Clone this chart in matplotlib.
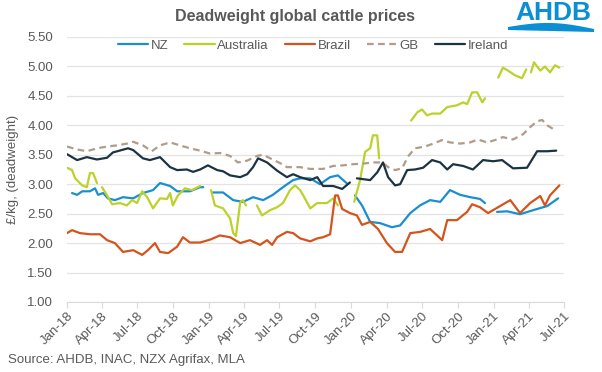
import numpy as np
import pandas as pd
import matplotlib
matplotlib.use("Agg")
import matplotlib.pyplot as plt
import matplotlib.dates as mdates
from matplotlib.patches import Polygon

plt.rcParams['font.family'] = ['Liberation Sans', 'DejaVu Sans']

NaN = float('nan')

ireland_dates = ["2018-01-01","2018-01-27","2018-02-21","2018-03-19","2018-04-14","2018-04-29","2018-06-07","2018-06-20",
    "2018-07-15","2018-08-02","2018-08-28","2018-09-23","2018-10-11","2018-11-05","2018-11-21","2018-12-09","2018-12-29",
    "2019-01-22","2019-02-06","2019-02-24","2019-03-22","2019-04-09","2019-04-24","2019-05-07","2019-05-30","2019-06-25",
    "2019-07-20","2019-08-05","2019-08-23","2019-09-18","2019-10-06","2019-10-21","2019-11-16","2019-12-09","2019-12-29",
    "2020-01-08","2020-01-16","2020-02-19","2020-03-08","2020-03-23","2020-04-05","2020-04-23","2020-05-06","2020-05-24",
    "2020-06-13","2020-07-04","2020-07-27","2020-08-17","2020-09-04","2020-09-19","2020-10-15","2020-11-09","2020-12-05",
    "2020-12-31","2021-01-23","2021-02-20","2021-03-28","2021-04-23","2021-05-19","2021-06-11"]
ireland_values = [3.51,3.41,3.46,3.42,3.45,3.54,3.61,3.58,
    3.44,3.41,3.46,3.29,3.24,3.25,3.21,3.25,3.32,
    3.24,3.22,3.15,3.12,3.17,3.29,3.44,3.37,3.23,
    3.12,3.17,3.12,3.07,3.12,2.97,2.97,2.92,3.03,
    NaN,3.10,3.07,3.20,3.37,3.12,2.98,3.00,3.24,
    3.25,3.28,3.41,3.37,3.25,3.34,3.31,3.25,3.41,
    3.39,3.41,3.27,3.28,3.56,3.56,3.57]

nz_dates = ["2018-01-14","2018-01-27","2018-02-09","2018-03-01","2018-03-14","2018-03-22","2018-04-04","2018-04-16",
    "2018-05-04","2018-05-25","2018-06-20","2018-07-15","2018-08-10","2018-08-28","2018-09-23","2018-10-11","2018-11-13",
    "2018-12-09","2018-12-17","2018-12-26","2019-01-11","2019-02-06","2019-03-04","2019-03-29","2019-04-24","2019-05-20",
    "2019-06-14","2019-07-10","2019-08-05","2019-08-23","2019-09-18","2019-10-13","2019-11-08","2019-11-28","2019-12-22",
    "2020-01-02","2020-01-11","2020-01-29","2020-02-19","2020-03-15","2020-04-15","2020-05-06","2020-06-01","2020-06-26",
    "2020-07-22","2020-08-17","2020-09-11","2020-10-07","2020-11-02","2020-11-27","2020-12-10","2020-12-25","2021-01-10",
    "2021-02-05","2021-03-10","2021-04-13","2021-05-19","2021-06-16"]
nz_values = [2.85,2.82,2.88,2.88,2.93,2.82,2.85,2.76,
    2.73,2.78,2.76,2.85,2.90,3.02,2.97,2.88,2.88,
    2.95,2.95,NaN,2.86,2.86,2.73,2.70,2.78,2.73,
    2.82,2.95,3.07,3.10,3.10,3.00,3.12,3.15,3.01,
    NaN,2.81,2.64,2.36,2.34,2.27,2.30,2.51,2.64,
    2.73,2.70,2.90,2.82,2.78,2.75,2.68,NaN,2.53,
    2.54,2.49,2.56,2.63,2.76]

brazil_dates = ["2018-01-01","2018-01-14","2018-02-03","2018-03-01","2018-03-27","2018-04-14","2018-05-04","2018-05-25",
    "2018-06-20","2018-07-13","2018-07-28","2018-08-15","2018-08-28","2018-09-18","2018-10-11","2018-10-26","2018-11-13",
    "2018-12-09","2019-01-04","2019-01-29","2019-02-24","2019-03-22","2019-04-16","2019-05-12","2019-05-30","2019-06-12",
    "2019-06-25","2019-07-20","2019-08-05","2019-08-23","2019-09-18","2019-10-06","2019-10-21","2019-11-08","2019-11-21",
    "2019-11-28","2019-12-09","2019-12-29","2020-01-16","2020-01-29","2020-02-19","2020-03-10","2020-04-02","2020-04-23",
    "2020-05-11","2020-06-01","2020-06-26","2020-07-22","2020-08-22","2020-09-04","2020-09-29","2020-10-25","2020-11-07",
    "2020-11-27","2020-12-18","2021-01-18","2021-02-13","2021-03-10","2021-04-05","2021-05-01","2021-05-13","2021-05-26",
    "2021-06-19"]
brazil_values = [2.17,2.22,2.17,2.15,2.15,2.05,2.00,1.85,
    1.88,1.80,1.88,2.00,1.85,1.83,1.94,2.10,2.01,
    2.01,2.06,2.13,2.10,2.00,2.05,1.97,2.05,1.97,
    2.10,2.19,2.17,2.08,2.03,2.08,2.10,2.15,2.81,
    2.81,2.58,2.51,2.47,2.31,2.36,2.24,2.00,1.85,
    1.85,2.17,2.19,2.24,2.05,2.39,2.39,2.53,2.66,
    2.61,2.51,2.63,2.73,2.51,2.68,2.80,2.64,2.81,
    2.98]

australia_dates = ["2018-01-01","2018-01-14","2018-01-22","2018-02-09","2018-02-21","2018-03-01","2018-03-09","2018-03-19",
    "2018-03-26","2018-04-01","2018-04-14","2018-04-27","2018-05-17","2018-06-04","2018-06-17","2018-06-30","2018-07-13",
    "2018-07-26","2018-08-10","2018-08-28","2018-09-15","2018-09-23","2018-09-30","2018-10-13","2018-10-31","2018-11-18",
    "2018-12-09","2018-12-25","2019-01-06","2019-01-16","2019-02-06","2019-02-24","2019-03-04","2019-03-11","2019-03-22",
    "2019-03-29","2019-04-06","2019-04-20","2019-05-04","2019-05-17","2019-06-07","2019-06-25","2019-07-10","2019-07-28",
    "2019-08-10","2019-08-23","2019-08-31","2019-09-18","2019-10-06","2019-10-31","2019-11-16","2019-11-28","2019-12-20",
    "2020-01-09","2020-01-24","2020-02-06","2020-02-19","2020-02-26","2020-03-08","2020-03-13","2020-05-01","2020-06-03",
    "2020-06-19","2020-07-01","2020-07-14","2020-07-27","2020-08-17","2020-09-04","2020-09-29","2020-10-15","2020-10-25",
    "2020-11-07","2020-11-20","2020-12-03","2020-12-10","2020-12-31","2021-01-13","2021-01-25","2021-02-07","2021-02-25",
    "2021-03-15","2021-03-26","2021-03-30","2021-04-07","2021-04-15","2021-05-01","2021-05-13","2021-05-26","2021-06-08",
    "2021-06-19"]
australia_values = [3.28,3.24,3.10,2.98,2.95,3.19,3.19,3.02,
    NaN,2.95,2.81,2.66,2.68,2.64,2.73,2.68,2.88,
    2.78,2.59,2.76,2.75,2.85,2.64,2.81,2.93,2.90,
    2.97,NaN,2.90,2.64,2.59,2.42,2.17,2.12,2.69,
    2.73,2.64,NaN,2.64,2.47,2.56,2.61,2.68,2.90,
    2.98,2.90,2.81,2.59,2.68,2.68,2.76,2.64,NaN,
    2.70,3.07,3.55,3.61,3.83,3.83,3.44,NaN,4.08,
    4.22,4.27,4.17,4.20,4.20,4.31,4.34,4.39,4.36,
    4.56,4.56,4.39,4.46,NaN,4.81,4.98,4.93,4.85,
    4.80,4.95,NaN,4.90,5.07,4.93,5.00,4.90,5.02,
    4.98]

gb_dates = ["2018-01-01","2018-01-27","2018-02-21","2018-03-19","2018-04-14","2018-05-10","2018-06-04","2018-06-20",
    "2018-07-15","2018-08-07","2018-08-28","2018-09-23","2018-10-18","2018-11-13","2018-12-09","2019-01-04","2019-01-29",
    "2019-02-24","2019-03-16","2019-04-09","2019-05-04","2019-05-20","2019-06-07","2019-07-02","2019-07-20","2019-08-23",
    "2019-09-18","2019-10-21","2019-11-16","2019-12-11","2020-01-06","2020-02-01","2020-02-26","2020-03-21","2020-04-05",
    "2020-04-23","2020-05-11","2020-05-26","2020-06-13","2020-07-09","2020-07-30","2020-08-22","2020-09-11","2020-10-07",
    "2020-11-02","2020-11-22","2020-12-15","2021-01-05","2021-01-25","2021-02-20","2021-03-18","2021-04-05","2021-04-23",
    "2021-05-06","2021-05-21","2021-06-08"]
gb_values = [3.64,3.59,3.56,3.61,3.64,3.66,3.69,3.72,
    3.66,3.56,3.66,3.71,3.66,3.61,3.57,3.52,3.53,
    3.48,3.37,3.40,3.48,3.50,3.44,3.36,3.29,3.29,
    3.26,3.26,3.31,3.32,3.34,3.35,3.37,3.37,3.29,
    3.24,3.27,3.47,3.61,3.64,3.69,3.75,3.71,3.69,
    3.71,3.76,3.71,3.75,3.80,3.76,3.85,3.97,4.07,
    4.09,3.99,3.92]

y_ticks = [1.00,1.50,2.00,2.50,3.00,3.50,4.00,4.50,5.00,5.50]
x_tick_labels = ["Jan-18","Apr-18","Jul-18","Oct-18","Jan-19","Apr-19","Jul-19","Oct-19",
                 "Jan-20","Apr-20","Jul-20","Oct-20","Jan-21","Apr-21","Jul-21"]

series = [
    ("NZ", nz_dates, nz_values, "#1a8fd0", "-"),
    ("Australia", australia_dates, australia_values, "#bcd12a", "-"),
    ("Brazil", brazil_dates, brazil_values, "#d5531c", "-"),
    ("GB", gb_dates, gb_values, "#b09c88", (0, (3, 2))),
    ("Ireland", ireland_dates, ireland_values, "#1b3444", "-"),
]

grey = "#595959"
fig = plt.figure(figsize=(6.02, 3.72), dpi=100)
ax = fig.add_axes([67/602, 1-302/372, (564-67)/602, (302-37)/372])

for name, d, v, c, ls in series:
    ax.plot(pd.to_datetime(d), v, color=c, lw=1.6, linestyle=ls, label=name,
            solid_capstyle='round', dash_capstyle='butt')

ax.set_ylim(1.0, 5.5)
ax.set_yticks(y_ticks)
ax.set_yticklabels([f"{t:.2f}" for t in y_ticks], color=grey, fontsize=9.5)
ax.grid(axis='y', color='#e3e3e3', lw=0.9)
ax.set_axisbelow(True)

x_tick_dates = pd.to_datetime(["01-" + s for s in x_tick_labels], format="%d-%b-%y")
ax.set_xlim(x_tick_dates[0], x_tick_dates[-1])
ax.set_xticks(x_tick_dates)
ax.set_xticklabels(x_tick_labels, rotation=45, ha='right', rotation_mode='anchor',
                   color=grey, fontsize=9.5)
ax.tick_params(axis='x', length=4, color='#d9d9d9', pad=2)
ax.tick_params(axis='y', length=0, pad=10)
for s in ['top', 'right', 'left']:
    ax.spines[s].set_visible(False)
ax.spines['bottom'].set_color('#d9d9d9')

ax.set_ylabel("£/kg, (deadweight)", color=grey, fontsize=9.5, labelpad=6)

fig.text(0.49, 0.955, "Deadweight global cattle prices", ha='center', va='center',
         fontsize=11.5, fontweight='bold', color=grey)

leg = fig.legend(loc='center', bbox_to_anchor=(0.52, 0.878), ncol=5, frameon=False,
                 fontsize=9.5, handlelength=2.3, columnspacing=1.2, handletextpad=0.2)
for t in leg.get_texts():
    t.set_color(grey)

fig.text(8/602, 1-360/372, "Source: AHDB, INAC, NZX Agrifax, MLA", ha='left', va='center',
         fontsize=9.5, color=grey)

# AHDB logo
logo_blue = "#0a8fd4"
fig.text(553/602, 1-13/372, "AHDB", ha='center', va='center', fontsize=19,
         fontweight='bold', color=logo_blue)
xs = np.linspace(508, 594, 40)
top = 27 - 5*np.sin((xs-508)/86*np.pi) + 2*((xs-508)/86)
bot = top + 3 + 5*np.sin((xs-508)/86*np.pi)
pts = [(x/602, 1-y/372) for x, y in zip(xs, top)] + [(x/602, 1-y/372) for x, y in zip(xs[::-1], bot[::-1])]
fig.patches.append(Polygon(pts, closed=True, transform=fig.transFigure, color=logo_blue, lw=0))

fig.savefig("out.png", dpi=100)
